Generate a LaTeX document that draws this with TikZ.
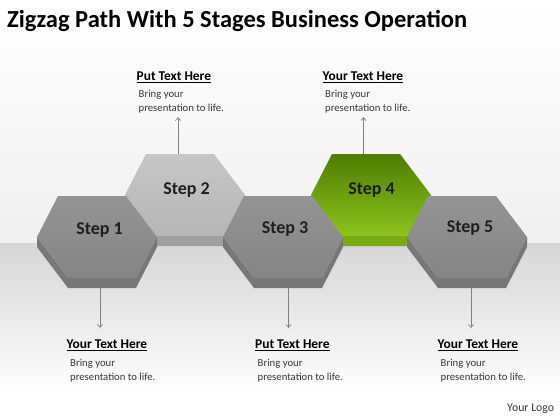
\documentclass[tikz,border=0pt]{standalone}
\usepackage{fontspec}
\setmainfont{Carlito}
\usetikzlibrary{arrows.meta}
\definecolor{gtop}{HTML}{949494}
\definecolor{gbot}{HTML}{858585}
\definecolor{gside}{HTML}{777777}
\definecolor{ltop}{HTML}{C6C6C6}
\definecolor{lbot}{HTML}{B6B6B6}
\definecolor{lside}{HTML}{A0A0A0}
\definecolor{grtop}{HTML}{4E7D02}
\definecolor{grbot}{HTML}{8DC41E}
\definecolor{grside}{HTML}{7AAA14}
\definecolor{bgband}{HTML}{D6D6D6}
\definecolor{bgtop}{HTML}{F0F0F0}
\definecolor{bodytxt}{HTML}{3A3A3A}
\newcommand\hexshape[6]{% name, cx, cy, face top, face bottom, side
  \begin{scope}[shift={(#2,#3)}]
    \fill[#6] (-60,0) -- (-29,41) -- (39,41) -- (60,0) -- (60,10) -- (39,51) -- (-29,51) -- (-60,10) -- cycle;
    \shade[top color=#4,bottom color=#5] (-60,0) -- (-39,-41) -- (29,-41) -- (60,0) -- (39,41) -- (-29,41) -- cycle;
    \coordinate (#1) at (0,0);
  \end{scope}}
\begin{document}
\begin{tikzpicture}[x=1pt,y=-1pt,
  hdr/.style={font=\fontsize{13.4}{16}\selectfont\bfseries, anchor=base west, inner sep=0pt, text=black},
  body/.style={font=\fontsize{10.7}{14}\selectfont, anchor=base west, inner sep=0pt, text=bodytxt},
  steplbl/.style={font=\fontsize{18}{20}\selectfont\bfseries, text=black!88, inner sep=0pt},
  conn/.style={draw=black!50, line width=0.7pt, -{Straight Barb[length=3pt,width=5pt]}}]
\useasboundingbox (0,0) rectangle (560,420);
% background
\shade[top color=white, bottom color=bgtop] (0,0) rectangle (560,243);
\shade[top color=bgband, bottom color=white] (0,243) rectangle (560,395);
\fill[white] (0,395) rectangle (560,420);
% title
\node[font=\fontsize{24.5}{28}\selectfont\bfseries, anchor=base west, inner sep=0pt] (title) at (7,28) {Zigzag Path With 5 Stages Business Operation};
% hexagons: even ones first
\hexshape{hex2}{185}{195}{ltop}{lbot}{lside}
\hexshape{hex4}{371}{195}{grtop}{grbot}{grside}
\hexshape{hex1}{97}{237}{gtop}{gbot}{gside}
\hexshape{hex3}{283}{237}{gtop}{gbot}{gside}
\hexshape{hex5}{467}{237}{gtop}{gbot}{gside}
% step labels
\node[steplbl] (s1) at (99.5,230) {Step 1};
\node[steplbl] (s2) at (186.5,190) {Step 2};
\node[steplbl] (s3) at (285,229) {Step 3};
\node[steplbl] (s4) at (371.5,190) {Step 4};
\node[steplbl] (s5) at (470,228) {Step 5};
% top texts
\node[hdr] (h2) at (136.5,81) {\underline{Put Text Here}};
\node[body] (b2a) at (138.5,98) {Bring your};
\node[body] (b2b) at (138.5,112) {presentation to life.};
\node[hdr] (h4) at (322.5,81) {\underline{Your Text Here}};
\node[body] (b4a) at (325,98) {Bring your};
\node[body] (b4b) at (325,112) {presentation to life.};
% bottom texts
\node[hdr] (h1) at (66.5,348.5) {\underline{Your Text Here}};
\node[body] (b1a) at (70,366) {Bring your};
\node[body] (b1b) at (70,380) {presentation to life.};
\node[hdr] (h3) at (255,348.5) {\underline{Put Text Here}};
\node[body] (b3a) at (257.5,366) {Bring your};
\node[body] (b3b) at (257.5,380) {presentation to life.};
\node[hdr] (h5) at (437.5,348.5) {\underline{Your Text Here}};
\node[body] (b5a) at (440.5,366) {Bring your};
\node[body] (b5b) at (440.5,380) {presentation to life.};
\node[font=\fontsize{11.8}{14}\selectfont, anchor=base west, inner sep=0pt, text=bodytxt] (logo) at (507,411) {Your Logo};
% connectors
\coordinate (a2s) at (178,154); \coordinate (a2e) at (178,117);
\coordinate (a4s) at (363.5,154); \coordinate (a4e) at (363.5,117);
\coordinate (a1s) at (100,288); \coordinate (a1e) at (100,328);
\coordinate (a3s) at (288.5,288); \coordinate (a3e) at (288.5,328);
\coordinate (a5s) at (471,288); \coordinate (a5e) at (471,328);
\draw[conn] (a2s) -- (a2e);
\draw[conn] (a4s) -- (a4e);
\draw[conn] (a1s) -- (a1e);
\draw[conn] (a3s) -- (a3e);
\draw[conn] (a5s) -- (a5e);
\end{tikzpicture}
\end{document}
